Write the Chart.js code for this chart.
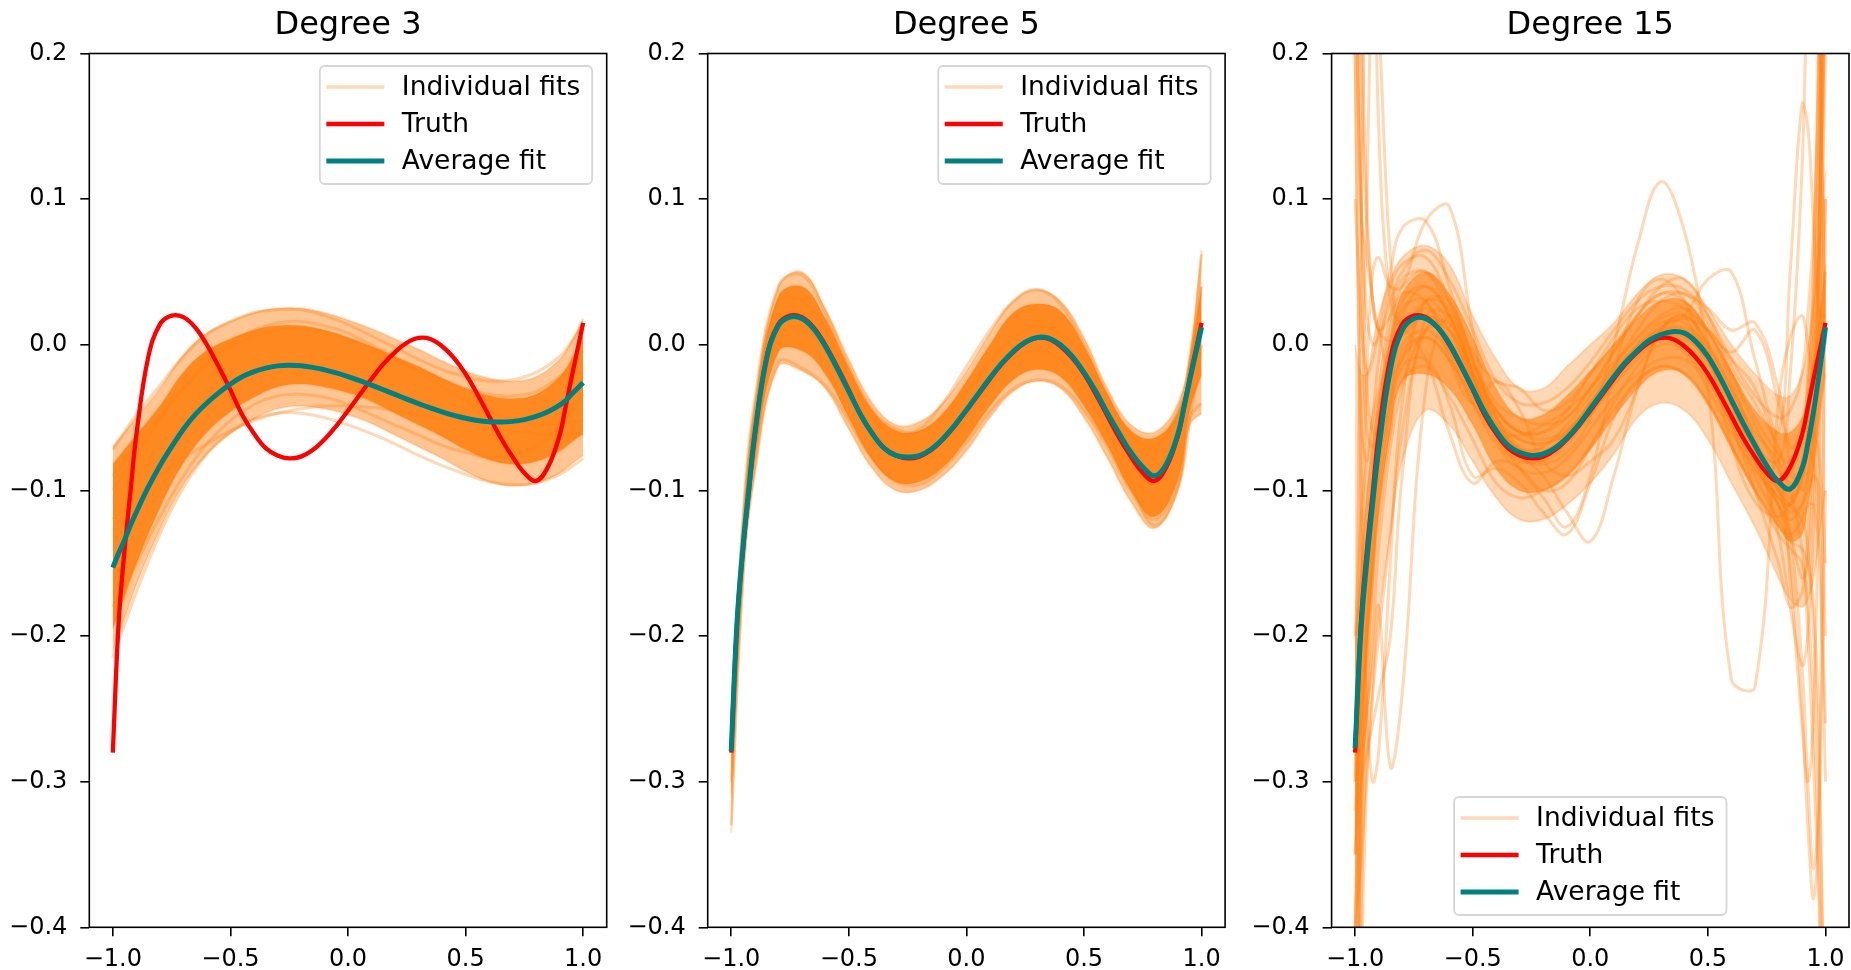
<!DOCTYPE html>
<html>
<head>
<meta charset="utf-8">
<script src="https://cdn.jsdelivr.net/npm/chart.js@4.4.1/dist/chart.umd.min.js"></script>
<style>
  html, body { margin: 0; padding: 0; background: #fff; overflow: hidden; }
  body { width: 1851px; height: 970px; position: relative; }
  canvas { position: absolute; top: 0; }
</style>
</head>
<body>
<canvas id="deg3" width="642" height="970" style="left:0px"></canvas>
<canvas id="deg5" width="642" height="970" style="left:618px"></canvas>
<canvas id="deg15" width="642" height="970" style="left:1242px"></canvas>
<script>
// ---------- data ----------
const titles = ['Degree 3', 'Degree 5', 'Degree 15'];
const legendLabels = ['Individual fits', 'Truth', 'Average fit'];
const xTickVals = [-1, -0.5, 0, 0.5, 1];
const xTickLabels = ['\u22121.0', '\u22120.5', '0.0', '0.5', '1.0'];
const yTickVals = [-0.4, -0.3, -0.2, -0.1, 0, 0.1, 0.2];
const yTickLabels = ['\u22120.4', '\u22120.3', '\u22120.2', '\u22120.1', '0.0', '0.1', '0.2'];

// fine grid for truth and average fits
const xs = [-1, -0.975, -0.95, -0.925, -0.9, -0.85, -0.8, -0.75, -0.7, -0.65, -0.6, -0.55, -0.5, -0.45, -0.4, -0.35, -0.3, -0.25, -0.2, -0.15, -0.1, -0.05, 0, 0.05, 0.1, 0.15, 0.2, 0.25, 0.3, 0.35, 0.4, 0.45, 0.5, 0.55, 0.6, 0.65, 0.7, 0.75, 0.8, 0.85, 0.9, 0.925, 0.95, 0.975, 1];
const truth = [-0.280, -0.190, -0.141, -0.101, -0.062, -0.009, 0.014, 0.020, 0.019, 0.012, 0.000, -0.015, -0.031, -0.048, -0.061, -0.071, -0.076, -0.078, -0.0768, -0.0723, -0.065, -0.0558, -0.0453, -0.0343, -0.0234, -0.0133, -0.005, 0.0014, 0.0047, 0.004, -0.001, -0.009, -0.020, -0.034, -0.049, -0.064, -0.077, -0.088, -0.0935, -0.084, -0.062, -0.043, -0.023, -0.004, 0.015];
const avg3 = [-0.153, -0.143, -0.134, -0.124, -0.115, -0.098, -0.083, -0.070, -0.058, -0.048, -0.040, -0.033, -0.027, -0.022, -0.0185, -0.016, -0.0145, -0.014, -0.0144, -0.0155, -0.0172, -0.0193, -0.0218, -0.0246, -0.0277, -0.0309, -0.0341, -0.0373, -0.0404, -0.0434, -0.0461, -0.0485, -0.0505, -0.052, -0.0529, -0.0531, -0.0526, -0.0514, -0.0492, -0.046, -0.0414, -0.0384, -0.034, -0.030, -0.026];
const avg5 = [-0.279, -0.190, -0.139, -0.099, -0.062, -0.010, 0.013, 0.019, 0.018, 0.011, -0.001, -0.016, -0.032, -0.048, -0.061, -0.071, -0.076, -0.077, -0.0762, -0.0718, -0.0645, -0.0553, -0.0448, -0.0338, -0.0229, -0.0128, -0.0045, 0.0018, 0.005, 0.0045, 0.000, -0.008, -0.019, -0.032, -0.047, -0.061, -0.074, -0.084, -0.090, -0.082, -0.061, -0.043, -0.024, -0.006, 0.012];
const avg15 = [-0.277, -0.195, -0.148, -0.108, -0.072, -0.017, 0.010, 0.018, 0.018, 0.012, 0.001, -0.014, -0.030, -0.046, -0.059, -0.069, -0.074, -0.076, -0.075, -0.071, -0.064, -0.055, -0.044, -0.033, -0.022, -0.012, -0.004, 0.003, 0.007, 0.009, 0.008, 0.002, -0.008, -0.022, -0.038, -0.054, -0.069, -0.083, -0.094, -0.099, -0.085, -0.068, -0.045, -0.018, 0.012];

// coarser grid for the spread of individual fits (degree 3 and 5)
const xsB = [-1, -0.95, -0.9, -0.8, -0.7, -0.6, -0.5, -0.4, -0.3, -0.2, -0.1, 0, 0.1, 0.2, 0.3, 0.4, 0.5, 0.6, 0.7, 0.8, 0.9, 0.95, 1];
const band3OuterHi = [-0.070, -0.060, -0.050, -0.030, -0.007, 0.008, 0.016, 0.022, 0.025, 0.025, 0.022, 0.017, 0.011, 0.004, -0.003, -0.011, -0.018, -0.023, -0.025, -0.022, -0.010, 0.002, 0.018];
const band3OuterLo = [-0.210, -0.188, -0.165, -0.127, -0.096, -0.075, -0.061, -0.051, -0.044, -0.042, -0.044, -0.048, -0.054, -0.062, -0.070, -0.078, -0.087, -0.094, -0.097, -0.095, -0.088, -0.082, -0.076];
const band3InnerHi = [-0.082, -0.072, -0.062, -0.042, -0.019, -0.004, 0.004, 0.010, 0.013, 0.013, 0.010, 0.005, -0.001, -0.008, -0.015, -0.023, -0.030, -0.035, -0.037, -0.034, -0.022, -0.010, 0.006];
const band3InnerLo = [-0.195, -0.173, -0.150, -0.112, -0.081, -0.060, -0.046, -0.036, -0.029, -0.027, -0.029, -0.033, -0.039, -0.047, -0.055, -0.063, -0.072, -0.079, -0.082, -0.080, -0.073, -0.067, -0.061];
const fit3a = [-0.072, -0.060, -0.048, -0.028, -0.008, 0.007, 0.016, 0.022, 0.024, 0.024, 0.020, 0.014, 0.006, -0.002, -0.010, -0.017, -0.022, -0.025, -0.024, -0.019, -0.008, 0.002, 0.015];
const fit3b = [-0.215, -0.192, -0.170, -0.130, -0.098, -0.075, -0.060, -0.051, -0.047, -0.047, -0.050, -0.055, -0.061, -0.068, -0.076, -0.083, -0.089, -0.094, -0.096, -0.095, -0.089, -0.084, -0.078];
const fit3c = [-0.120, -0.112, -0.104, -0.090, -0.078, -0.068, -0.059, -0.052, -0.047, -0.044, -0.042, -0.042, -0.043, -0.045, -0.048, -0.051, -0.054, -0.057, -0.059, -0.061, -0.062, -0.062, -0.062];
const fit3d = [-0.090, -0.080, -0.070, -0.049, -0.030, -0.014, -0.002, 0.006, 0.010, 0.011, 0.009, 0.004, -0.003, -0.010, -0.017, -0.024, -0.030, -0.034, -0.035, -0.032, -0.022, -0.014, -0.004];
const fit3e = [-0.180, -0.165, -0.150, -0.118, -0.090, -0.068, -0.052, -0.041, -0.035, -0.034, -0.036, -0.041, -0.048, -0.055, -0.062, -0.069, -0.074, -0.077, -0.076, -0.070, -0.056, -0.046, -0.034];
const fit3f = [-0.100, -0.088, -0.076, -0.052, -0.030, -0.012, 0.001, 0.010, 0.015, 0.016, 0.013, 0.008, 0.000, -0.009, -0.019, -0.029, -0.038, -0.046, -0.051, -0.054, -0.054, -0.053, -0.052];

const band5OuterHi = [-0.255, -0.120, -0.040, 0.040, 0.050, 0.025, -0.010, -0.040, -0.055, -0.053, -0.040, -0.018, 0.008, 0.030, 0.038, 0.030, 0.005, -0.030, -0.055, -0.060, -0.040, -0.005, 0.065];
const band5InnerHi = [-0.262, -0.126, -0.046, 0.033, 0.040, 0.018, -0.016, -0.045, -0.059, -0.059, -0.047, -0.025, 0.000, 0.022, 0.028, 0.023, -0.001, -0.034, -0.059, -0.064, -0.046, -0.010, 0.040];
const band5InnerLo = [-0.310, -0.155, -0.080, -0.005, -0.004, -0.020, -0.050, -0.079, -0.094, -0.094, -0.084, -0.065, -0.042, -0.024, -0.017, -0.022, -0.042, -0.069, -0.100, -0.118, -0.092, -0.045, -0.020];
const band5OuterLo = [-0.335, -0.165, -0.090, -0.015, -0.018, -0.030, -0.058, -0.085, -0.100, -0.100, -0.090, -0.073, -0.050, -0.032, -0.025, -0.030, -0.050, -0.078, -0.108, -0.126, -0.100, -0.055, -0.047];
const fit5a = [-0.262, -0.125, -0.045, 0.030, 0.030, 0.010, -0.022, -0.050, -0.062, -0.058, -0.040, -0.015, 0.010, 0.030, 0.038, 0.028, 0.000, -0.035, -0.062, -0.070, -0.045, -0.012, 0.040];
const fit5b = [-0.330, -0.160, -0.085, -0.012, -0.016, -0.028, -0.052, -0.078, -0.094, -0.096, -0.085, -0.067, -0.046, -0.030, -0.024, -0.028, -0.045, -0.070, -0.100, -0.120, -0.095, -0.050, -0.040];
const fit5c = [-0.258, -0.118, -0.038, 0.040, 0.048, 0.022, -0.015, -0.045, -0.058, -0.060, -0.050, -0.032, -0.012, 0.005, 0.012, 0.008, -0.010, -0.040, -0.070, -0.085, -0.060, -0.018, 0.062];
const fit5d = [-0.300, -0.150, -0.070, 0.005, 0.012, -0.004, -0.030, -0.058, -0.074, -0.077, -0.068, -0.050, -0.028, -0.010, -0.004, -0.010, -0.028, -0.060, -0.095, -0.124, -0.098, -0.052, 0.000];

// grid for the degree 15 fits (denser at the wild ends)
const xsW = [-1, -0.975, -0.95, -0.925, -0.9, -0.85, -0.8, -0.7, -0.6, -0.5, -0.4, -0.3, -0.2, -0.1, 0, 0.1, 0.2, 0.3, 0.4, 0.5, 0.6, 0.7, 0.8, 0.85, 0.9, 0.925, 0.95, 0.975, 1];
const band15OuterHi = [0.000, -0.020, -0.020, 0.000, 0.020, 0.045, 0.060, 0.068, 0.055, 0.020, -0.010, -0.030, -0.030, -0.015, 0.000, 0.015, 0.035, 0.048, 0.045, 0.025, 0.000, -0.020, -0.035, -0.035, -0.020, 0.000, 0.030, 0.070, 0.120];
const band15InnerHi = [-0.200, -0.150, -0.100, -0.065, -0.035, 0.005, 0.035, 0.050, 0.035, 0.005, -0.030, -0.050, -0.048, -0.035, -0.018, 0.000, 0.018, 0.030, 0.030, 0.010, -0.018, -0.045, -0.060, -0.060, -0.050, -0.035, -0.010, 0.020, 0.055];
const band15InnerLo = [-0.350, -0.280, -0.210, -0.160, -0.115, -0.060, -0.025, -0.020, -0.030, -0.055, -0.085, -0.100, -0.100, -0.090, -0.072, -0.050, -0.030, -0.018, -0.020, -0.040, -0.070, -0.100, -0.125, -0.135, -0.130, -0.110, -0.085, -0.050, -0.020];
const band15OuterLo = [-0.400, -0.360, -0.300, -0.240, -0.190, -0.130, -0.080, -0.045, -0.055, -0.080, -0.105, -0.120, -0.120, -0.110, -0.095, -0.075, -0.050, -0.040, -0.045, -0.065, -0.095, -0.125, -0.160, -0.175, -0.180, -0.175, -0.160, -0.130, -0.100];
const fit15a = [0.45, 0.20, 0.08, 0.03, 0.010, 0.002, 0.006, 0.020, 0.010, -0.028, -0.060, -0.078, -0.082, -0.074, -0.050, 0.000, 0.068, 0.112, 0.078, 0.000, -0.068, -0.108, -0.118, -0.108, -0.082, -0.072, -0.082, -0.130, -0.260];
const fit15b = [-0.50, -0.30, -0.18, -0.10, -0.050, 0.010, 0.035, 0.030, -0.005, -0.040, -0.060, -0.062, -0.055, -0.045, -0.030, -0.012, 0.004, 0.018, 0.020, -0.030, -0.230, -0.235, -0.040, 0.005, 0.020, 0.000, -0.020, 0.060, 0.350];
const fit15c = [-0.60, -0.20, -0.02, 0.05, 0.060, 0.040, 0.040, 0.085, 0.095, 0.010, -0.060, -0.085, -0.105, -0.125, -0.090, -0.020, 0.030, 0.045, 0.030, -0.010, -0.050, -0.085, -0.110, -0.130, -0.160, -0.150, -0.080, 0.080, 0.400];
const fit15d = [0.30, 0.09, 0.06, 0.03, 0.010, -0.020, -0.010, 0.030, 0.030, -0.010, -0.050, -0.075, -0.090, -0.115, -0.135, -0.090, -0.030, 0.010, 0.020, 0.000, -0.030, -0.060, -0.080, -0.100, -0.140, -0.200, -0.290, -0.400, -0.600];
const fit15e = [-0.40, -0.30, -0.25, -0.22, -0.180, -0.290, -0.240, -0.030, 0.020, -0.015, -0.050, -0.070, -0.072, -0.065, -0.048, -0.028, -0.010, 0.004, 0.006, -0.010, -0.040, -0.072, -0.100, -0.130, -0.220, -0.300, -0.360, -0.300, -0.100];
const fit15f = [-0.35, -0.22, -0.15, -0.11, -0.080, -0.040, -0.010, 0.005, -0.010, -0.035, -0.055, -0.065, -0.068, -0.060, -0.040, -0.018, 0.000, 0.012, 0.020, 0.045, 0.050, -0.010, -0.060, 0.050, 0.165, 0.150, 0.080, 0.020, 0.020];
const fit15g = [0.60, 0.12, -0.03, -0.06, -0.060, -0.020, 0.020, 0.040, 0.020, -0.020, -0.055, -0.072, -0.070, -0.055, -0.035, -0.015, 0.005, 0.020, 0.025, 0.010, -0.020, -0.050, -0.075, -0.080, -0.060, -0.030, 0.030, 0.150, 0.450];
const fit15h = [-0.70, -0.40, -0.25, -0.16, -0.100, -0.040, -0.005, 0.005, -0.010, -0.040, -0.068, -0.085, -0.088, -0.078, -0.058, -0.036, -0.020, -0.010, -0.010, -0.025, -0.055, -0.090, -0.120, -0.135, -0.140, -0.150, -0.180, -0.280, -0.550];
const fit15i = [-0.20, -0.12, -0.08, -0.05, -0.030, 0.020, 0.045, 0.050, 0.030, -0.005, -0.025, -0.030, -0.045, -0.040, -0.020, 0.000, 0.020, 0.035, 0.035, 0.025, 0.010, 0.015, -0.030, -0.070, -0.060, -0.020, 0.060, 0.250, 0.600];
const fit15j = [-0.32, -0.25, -0.20, -0.15, -0.110, -0.050, -0.015, -0.010, -0.040, -0.090, -0.085, -0.095, -0.115, -0.130, -0.095, -0.050, -0.025, -0.015, -0.020, -0.040, -0.070, -0.100, -0.130, -0.140, -0.150, -0.180, -0.250, -0.380, -0.550];
const fit15k = [0.10, 0.02, -0.02, -0.01, 0.010, 0.050, 0.080, 0.085, 0.040, -0.010, -0.045, -0.060, -0.060, -0.050, -0.030, -0.005, 0.020, 0.035, 0.030, 0.010, -0.025, -0.070, -0.130, -0.180, -0.220, -0.200, -0.120, 0.020, 0.200];
const fit15l = [-0.25, -0.28, -0.25, -0.20, -0.140, -0.070, -0.030, 0.010, 0.010, -0.020, -0.045, -0.060, -0.065, -0.058, -0.042, -0.022, -0.005, 0.005, 0.000, -0.020, -0.055, -0.100, -0.150, -0.180, -0.170, -0.130, -0.060, 0.080, 0.300];
const fit15m = [-0.45, -0.10, 0.10, 0.25, 0.220, 0.060, 0.010, 0.030, 0.025, -0.020, -0.065, -0.080, -0.078, -0.065, -0.045, -0.020, 0.000, 0.015, 0.015, -0.005, -0.040, -0.080, -0.110, -0.120, -0.110, -0.090, -0.040, 0.100, 0.500];
const fit15n = [0.20, -0.05, -0.08, -0.05, -0.010, 0.040, 0.055, 0.060, 0.030, -0.010, -0.040, -0.050, -0.055, -0.050, -0.030, -0.005, 0.020, 0.040, 0.045, 0.020, -0.015, -0.040, -0.070, -0.090, -0.090, -0.060, 0.000, 0.120, 0.350];
const fit15o = [-0.55, -0.32, -0.22, -0.16, -0.120, -0.060, -0.025, -0.015, -0.035, -0.065, -0.095, -0.105, -0.100, -0.090, -0.070, -0.045, -0.025, -0.015, -0.020, -0.040, -0.070, -0.100, -0.125, -0.130, -0.120, -0.110, -0.110, -0.150, -0.300];
const fit15p = [-0.60, -0.30, -0.20, -0.14, -0.085, -0.010, 0.025, 0.030, -0.010, -0.040, -0.025, -0.045, -0.080, -0.090, -0.080, -0.065, -0.030, 0.010, 0.020, 0.000, -0.030, -0.065, -0.100, -0.110, -0.090, -0.070, -0.050, -0.010, 0.050];
const fit15q = [0.35, 0.05, -0.06, -0.07, -0.050, 0.000, 0.030, 0.040, 0.020, -0.015, -0.045, -0.060, -0.060, -0.045, -0.020, 0.005, 0.025, 0.030, 0.025, 0.010, -0.005, 0.010, -0.040, -0.080, -0.100, -0.090, -0.060, 0.000, 0.100];
const fit15r = [-0.65, -0.35, -0.20, -0.12, -0.070, -0.010, 0.010, -0.010, -0.060, -0.095, -0.080, -0.085, -0.100, -0.095, -0.070, -0.040, -0.015, 0.000, -0.005, -0.030, -0.060, -0.085, -0.105, -0.115, -0.110, -0.100, -0.090, -0.100, -0.200];
const fit15s = [-0.25, -0.19, -0.15, -0.11, -0.075, -0.022, 0.008, 0.020, 0.005, -0.025, -0.055, -0.072, -0.075, -0.066, -0.046, -0.024, -0.004, 0.010, 0.012, -0.003, -0.033, -0.066, -0.095, -0.105, -0.095, -0.060, 0.010, 0.150, 0.380];
const fit15t = [0.50, 0.25, 0.10, 0.03, 0.010, 0.020, 0.040, 0.050, 0.020, -0.020, -0.050, -0.065, -0.068, -0.060, -0.040, -0.015, 0.010, 0.030, 0.035, 0.015, -0.020, -0.055, -0.085, -0.095, -0.085, -0.070, -0.060, -0.080, -0.150];
const fit15u = [-0.30, -0.21, -0.16, -0.12, -0.085, -0.030, 0.000, 0.010, -0.005, -0.035, -0.062, -0.075, -0.074, -0.060, -0.040, -0.020, -0.002, 0.012, 0.018, 0.010, -0.010, -0.030, -0.080, -0.160, -0.260, -0.300, -0.250, -0.050, 0.300];
const fit15v = [-0.80, -0.45, -0.30, -0.24, -0.200, -0.130, -0.060, 0.010, 0.015, -0.020, -0.055, -0.072, -0.074, -0.063, -0.043, -0.022, -0.005, 0.005, 0.005, -0.012, -0.045, -0.080, -0.105, -0.110, -0.090, -0.060, -0.010, 0.080, 0.250];
const fit15w = [0.30, 0.10, 0.02, 0.00, 0.005, 0.030, 0.050, 0.065, 0.045, 0.010, -0.025, -0.040, -0.040, -0.030, -0.012, 0.010, 0.030, 0.040, 0.038, 0.020, -0.010, -0.035, -0.050, -0.045, -0.020, 0.020, 0.080, 0.200, 0.450];
const fit15x = [-0.35, -0.30, -0.28, -0.26, -0.240, -0.200, -0.090, 0.020, 0.020, -0.020, -0.060, -0.078, -0.080, -0.068, -0.048, -0.026, -0.008, 0.004, 0.004, -0.012, -0.040, -0.075, -0.100, -0.110, -0.120, -0.140, -0.200, -0.320, -0.500];
const fit15y = [-0.30, 0.05, 0.30, 0.35, 0.150, 0.030, 0.015, 0.025, 0.010, -0.025, -0.058, -0.075, -0.076, -0.065, -0.045, -0.022, -0.004, 0.008, 0.010, -0.006, -0.036, -0.070, -0.098, -0.100, -0.080, -0.040, 0.050, 0.250, 0.600];
const fit15z = [0.20, -0.10, -0.25, -0.30, -0.280, -0.150, -0.040, 0.030, 0.015, -0.025, -0.060, -0.074, -0.074, -0.062, -0.042, -0.020, -0.002, 0.010, 0.010, -0.008, -0.040, -0.075, -0.110, -0.150, -0.250, -0.330, -0.380, -0.300, 0.100];
const fit15aa = [-0.40, -0.22, -0.14, -0.10, -0.065, -0.012, 0.012, 0.020, 0.002, -0.030, -0.058, -0.073, -0.075, -0.064, -0.044, -0.022, -0.004, 0.008, 0.008, -0.008, -0.040, -0.070, -0.080, -0.020, 0.120, 0.250, 0.300, 0.200, 0.000];

// ---------- styling ----------
const FONT = 'DejaVu Sans';
const fitColor = 'rgba(255,127,14,0.3)';
const truthColor = '#ff0000';
const avgColor = '#008080';
const legendColors = [fitColor, truthColor, avgColor];
const legendWidths = [3.4, 4.3, 5];

function pts(xArr, yArr) {
  return xArr.map((x, i) => ({ x: x, y: yArr[i] }));
}

function curve(xArr, yArr, color, width, order) {
  return { data: pts(xArr, yArr), borderColor: color, borderWidth: width, pointRadius: 0,
           tension: 0.4, fill: false, order: order, clip: 0 };
}

function band(xArr, hi, lo, fillColor) {
  const edge = 'rgba(255,127,14,0.22)';
  return [
    { data: pts(xArr, hi), borderColor: edge, borderWidth: 2, pointRadius: 0,
      tension: 0.4, fill: false, order: 3, clip: 0 },
    { data: pts(xArr, lo), borderColor: edge, borderWidth: 2, pointRadius: 0,
      tension: 0.4, fill: '-1', backgroundColor: fillColor, order: 3, clip: 0 }
  ];
}

const framePlugin = {
  id: 'frame',
  afterDatasetsDraw(chart) {
    const { ctx, chartArea: a } = chart;
    ctx.save();
    ctx.strokeStyle = '#000';
    ctx.lineWidth = 1.6;
    ctx.strokeRect(a.left, a.top, a.right - a.left, a.bottom - a.top);
    ctx.restore();
  }
};

function legendPlugin(where) {
  return {
    id: 'boxLegend',
    afterDraw(chart) {
      const { ctx, chartArea: a } = chart;
      ctx.save();
      ctx.font = '26.5px "' + FONT + '"';
      const textW = Math.max(...legendLabels.map(t => ctx.measureText(t).width));
      const w = 82 + textW + 12, h = 118;
      let left, top;
      if (where === 'upper right') { left = a.right - 14.5 - w; top = a.top + 12.5; }
      else { left = (a.left + a.right) / 2 - w / 2; top = a.bottom - 12.3 - h; }
      ctx.beginPath();
      ctx.roundRect(left, top, w, h, 5);
      ctx.fillStyle = 'rgba(255,255,255,0.8)';
      ctx.fill();
      ctx.strokeStyle = '#d6d6d6';
      ctx.lineWidth = 1.8;
      ctx.stroke();
      legendLabels.forEach((t, i) => {
        const y = top + 21 + 37 * i;
        ctx.beginPath();
        ctx.moveTo(left + 6.5, y);
        ctx.lineTo(left + 64.5, y);
        ctx.strokeStyle = legendColors[i];
        ctx.lineWidth = legendWidths[i];
        ctx.stroke();
        ctx.fillStyle = '#000';
        ctx.textBaseline = 'middle';
        ctx.textAlign = 'left';
        ctx.fillText(t, left + 82, y + 1.5);
      });
      ctx.restore();
    }
  };
}

function makePanel(id, title, yAxisW, avg, bands, fits, fitX, where) {
  const datasets = [curve(xs, avg, avgColor, 5, 0), curve(xs, truth, truthColor, 4.3, 1)];
  fits.forEach(f => datasets.push(curve(fitX, f, fitColor, 3, 2)));
  bands.forEach(b => band(b.x, b.hi, b.lo, b.fill).forEach(d => datasets.push(d)));

  const tickFont = { family: FONT, size: 24 };
  new Chart(document.getElementById(id), {
    type: 'line',
    data: { datasets: datasets },
    plugins: [framePlugin, legendPlugin(where)],
    options: {
      responsive: false,
      animation: false,
      devicePixelRatio: 1,
      layout: { padding: { left: 0, right: 642 - yAxisW - 517.4, top: 0, bottom: 0 } },
      plugins: {
        legend: { display: false },
        tooltip: { enabled: false },
        title: { display: true, text: title, fullSize: false, color: '#000',
                 font: { family: FONT, size: 32, weight: 'normal' },
                 padding: { top: 6.8, bottom: 8.3 } }
      },
      scales: {
        x: {
          type: 'linear', min: -1.1, max: 1.1,
          afterBuildTicks: s => { s.ticks = xTickVals.map(v => ({ value: v })); },
          afterTickToLabelConversion: s => { s.ticks.forEach((t, i) => { t.label = xTickLabels[i]; }); },
          afterFit: s => { s.height = 42.7; },
          ticks: { font: tickFont, color: '#000', padding: 9, maxRotation: 0, autoSkip: false },
          grid: { drawOnChartArea: false, drawTicks: true, tickLength: 9, color: '#000', lineWidth: 1.6 },
          border: { display: false }
        },
        y: {
          type: 'linear', min: -0.4, max: 0.2,
          afterBuildTicks: s => { s.ticks = yTickVals.map(v => ({ value: v })); },
          afterTickToLabelConversion: s => { s.ticks.forEach((t, i) => { t.label = yTickLabels[i]; }); },
          afterFit: s => { s.width = yAxisW; },
          ticks: { font: tickFont, color: '#000', padding: 13, autoSkip: false },
          grid: { drawOnChartArea: false, drawTicks: true, tickLength: 9, color: '#000', lineWidth: 1.6 },
          border: { display: false }
        }
      }
    }
  });
}

makePanel('deg3', titles[0], 89.3, avg3,
  [{ x: xsB, hi: band3InnerHi, lo: band3InnerLo, fill: 'rgba(255,127,14,0.85)' },
   { x: xsB, hi: band3OuterHi, lo: band3OuterLo, fill: 'rgba(255,127,14,0.45)' }],
  [fit3a, fit3b, fit3c, fit3d, fit3e, fit3f], xsB, 'upper right');

makePanel('deg5', titles[1], 89.7, avg5,
  [{ x: xsB, hi: band5InnerHi, lo: band5InnerLo, fill: 'rgba(255,127,14,0.85)' },
   { x: xsB, hi: band5OuterHi, lo: band5OuterLo, fill: 'rgba(255,127,14,0.45)' }],
  [fit5a, fit5b, fit5c, fit5d], xsB, 'upper right');

makePanel('deg15', titles[2], 89.6, avg15,
  [{ x: xsW, hi: band15InnerHi, lo: band15InnerLo, fill: 'rgba(255,127,14,0.6)' },
   { x: xsW, hi: band15OuterHi, lo: band15OuterLo, fill: 'rgba(255,127,14,0.3)' }],
  [fit15a, fit15b, fit15c, fit15d, fit15e, fit15f, fit15g, fit15h, fit15i, fit15j, fit15k, fit15l, fit15m,
   fit15n, fit15o, fit15p, fit15q, fit15r, fit15s, fit15t, fit15u, fit15v, fit15w, fit15x, fit15y, fit15z, fit15aa],
  xsW, 'lower center');
</script>
</body>
</html>
